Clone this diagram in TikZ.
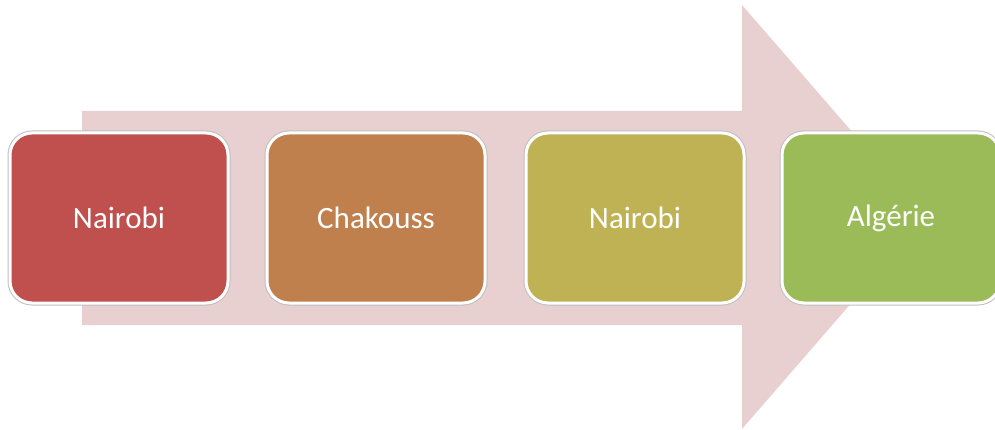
\documentclass[tikz,border=0pt]{standalone}
\usepackage{fontspec}
\setmainfont{Carlito}
\definecolor{arrowpink}{HTML}{E8D0D1}
\definecolor{c1}{HTML}{C0504D}
\definecolor{c2}{HTML}{C0804D}
\definecolor{c3}{HTML}{BFB254}
\definecolor{c4}{HTML}{9BBB59}
\tikzset{
  stagebox/.style={rounded corners=22pt, minimum width=218pt, minimum height=170pt,
    draw=white, line width=3pt, text=white, font=\fontsize{31}{36}\selectfont,
    inner sep=0pt, outer sep=0pt,
    preaction={draw=black!25, line width=5pt}},
}
\begin{document}
\begin{tikzpicture}[x=1pt,y=-1pt]
\useasboundingbox (0,0) rectangle (995,430);
\clip (0,0) rectangle (995,430);
\fill[arrowpink] (82,111) -- (742,111) -- (742,5) -- (926,217) -- (742,429) -- (742,325) -- (82,325) -- cycle;
\node[stagebox, fill=c1] (n1) at (119,218) {Nairobi};
\node[stagebox, fill=c2] (n2) at (376,218) {Chakouss};
\node[stagebox, fill=c3] (n3) at (635,218) {Nairobi};
\node[stagebox, fill=c4] (n4) at (891,218) {Algérie};
\end{tikzpicture}
\end{document}
